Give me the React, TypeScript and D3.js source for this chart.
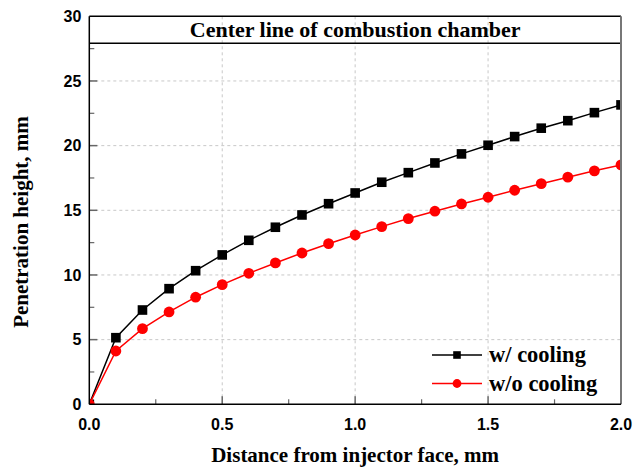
import React from "react";
import * as d3 from "d3";

const xValues = [0, 0.1, 0.2, 0.3, 0.4, 0.5, 0.6, 0.7, 0.8, 0.9, 1.0, 1.1, 1.2, 1.3, 1.4, 1.5, 1.6, 1.7, 1.8, 1.9, 2.0];
const withCooling = [0, 5.15, 7.29, 8.94, 10.33, 11.55, 12.68, 13.69, 14.64, 15.51, 16.34, 17.17, 17.91, 18.66, 19.36, 20.03, 20.70, 21.35, 21.93, 22.55, 23.15];
const withoutCooling = [0, 4.12, 5.85, 7.14, 8.28, 9.25, 10.13, 10.93, 11.70, 12.42, 13.09, 13.74, 14.36, 14.93, 15.49, 16.01, 16.55, 17.06, 17.56, 18.05, 18.51];
const xTicks = [0, 0.5, 1.0, 1.5, 2.0];
const xMinorTicks = [0.25, 0.75, 1.25, 1.75];
const yTicks = [0, 5, 10, 15, 20, 25, 30];
const yMinorTicks = [2.5, 7.5, 12.5, 17.5, 22.5, 27.5];
const titleText = "Center line of combustion chamber";
const xLabel = "Distance from injector face, mm";
const yLabel = "Penetration height, mm";
const legendNames = ["w/ cooling", "w/o cooling"];

const W = 642, H = 473;
const L = 89.3, R = 621, T = 16.3, B = 404.3;
const titleBand = 27;

export default function App() {
  const x = d3.scaleLinear().domain([0, 2]).range([L, R]);
  const y = d3.scaleLinear().domain([0, 30]).range([B, T]);
  const line = d3.line<number>().x((_, i) => x(xValues[i])).y((d) => y(d));
  const serif = "'Liberation Serif', 'Times New Roman', serif";
  const sans = "'Liberation Sans', Arial, sans-serif";
  const series = [
    { vals: withCooling, color: "#000000", shape: "square" },
    { vals: withoutCooling, color: "#ff0000", shape: "circle" },
  ];
  return (
    <svg width={W} height={H} style={{ position: "absolute", left: 0, top: 0, background: "#fff" }}>
      <defs>
        <clipPath id="plotclip">
          <rect x={L} y={T} width={R - L} height={B - T} />
        </clipPath>
      </defs>
      {/* grid */}
      {xTicks.slice(1, -1).map((t) => (
        <line key={"gx" + t} x1={x(t)} x2={x(t)} y1={T} y2={B} stroke="#c8c8c8" strokeDasharray="3,3" strokeWidth={1} />
      ))}
      {yTicks.slice(1, -1).map((t) => (
        <line key={"gy" + t} x1={L} x2={R} y1={y(t)} y2={y(t)} stroke="#c8c8c8" strokeDasharray="3,3" strokeWidth={1} />
      ))}
      {/* ticks */}
      {yTicks.slice(1, -1).map((t) => (
        <line key={"ty" + t} x1={L} x2={L + 8} y1={y(t)} y2={y(t)} stroke="#666" strokeWidth={1.5} />
      ))}
      {yMinorTicks.map((t) => (
        <line key={"tym" + t} x1={L} x2={L + 5} y1={y(t)} y2={y(t)} stroke="#666" strokeWidth={1.2} />
      ))}
      {xTicks.slice(1, -1).map((t) => (
        <line key={"tx" + t} x1={x(t)} x2={x(t)} y1={B} y2={B - 8} stroke="#666" strokeWidth={1.5} />
      ))}
      {xMinorTicks.map((t) => (
        <line key={"txm" + t} x1={x(t)} x2={x(t)} y1={B} y2={B - 5} stroke="#666" strokeWidth={1.2} />
      ))}
      {/* title band */}
      <line x1={L} x2={R} y1={T + titleBand} y2={T + titleBand} stroke="#000" strokeWidth={1.5} />
      <text x={(L + R) / 2} y={T + 20.5} textAnchor="middle" fontFamily={serif} fontWeight="bold" fontSize={22} fill="#000">
        {titleText}
      </text>
      {/* series */}
      <g clipPath="url(#plotclip)">
        {series.map((s, si) => (
          <g key={"s" + si}>
            <path d={line(s.vals) || ""} fill="none" stroke={s.color} strokeWidth={1.5} />
            {s.vals.map((v, i) =>
              s.shape === "square" ? (
                <rect key={i} x={x(xValues[i]) - 4.8} y={y(v) - 4.8} width={9.6} height={9.6} fill={s.color} />
              ) : (
                <circle key={i} cx={x(xValues[i])} cy={y(v)} r={5.4} fill={s.color} />
              )
            )}
          </g>
        ))}
      </g>
      {/* frame */}
      <line x1={L} x2={R} y1={T} y2={T} stroke="#000" strokeWidth={1.5} />
      <line x1={R} x2={R} y1={T} y2={B} stroke="#777" strokeWidth={2} />
      <line x1={L} x2={L} y1={T} y2={B} stroke="#000" strokeWidth={1.5} />
      <line x1={L} x2={R} y1={B} y2={B} stroke="#000" strokeWidth={1.5} />
      {/* tick labels */}
      {yTicks.map((t) => (
        <text key={"ly" + t} x={L - 8} y={y(t)} dy="0.35em" textAnchor="end" fontFamily={sans} fontWeight="bold" fontSize={16} fill="#000">
          {t}
        </text>
      ))}
      {xTicks.map((t) => (
        <text key={"lx" + t} x={x(t)} y={B + 26} textAnchor="middle" fontFamily={sans} fontWeight="bold" fontSize={16} fill="#000">
          {t.toFixed(1)}
        </text>
      ))}
      {/* axis titles */}
      <text x={(L + R) / 2} y={462} textAnchor="middle" fontFamily={serif} fontWeight="bold" fontSize={21} fill="#000">
        {xLabel}
      </text>
      <text transform={`translate(28, ${222}) rotate(-90)`} textAnchor="middle" fontFamily={serif} fontWeight="bold" fontSize={21} fill="#000">
        {yLabel}
      </text>
      {/* legend */}
      {series.map((s, si) => {
        const ly = 355 + si * 28.5;
        return (
          <g key={"lg" + si}>
            <line x1={432} x2={482} y1={ly} y2={ly} stroke={s.color} strokeWidth={1.5} />
            {s.shape === "square" ? (
              <rect x={457 - 3.8} y={ly - 3.8} width={7.6} height={7.6} fill={s.color} />
            ) : (
              <circle cx={457} cy={ly} r={4.4} fill={s.color} />
            )}
            <text x={489} y={ly + 7} fontFamily={serif} fontWeight="bold" fontSize={22.5} fill="#000">
              {legendNames[si]}
            </text>
          </g>
        );
      })}
    </svg>
  );
}
